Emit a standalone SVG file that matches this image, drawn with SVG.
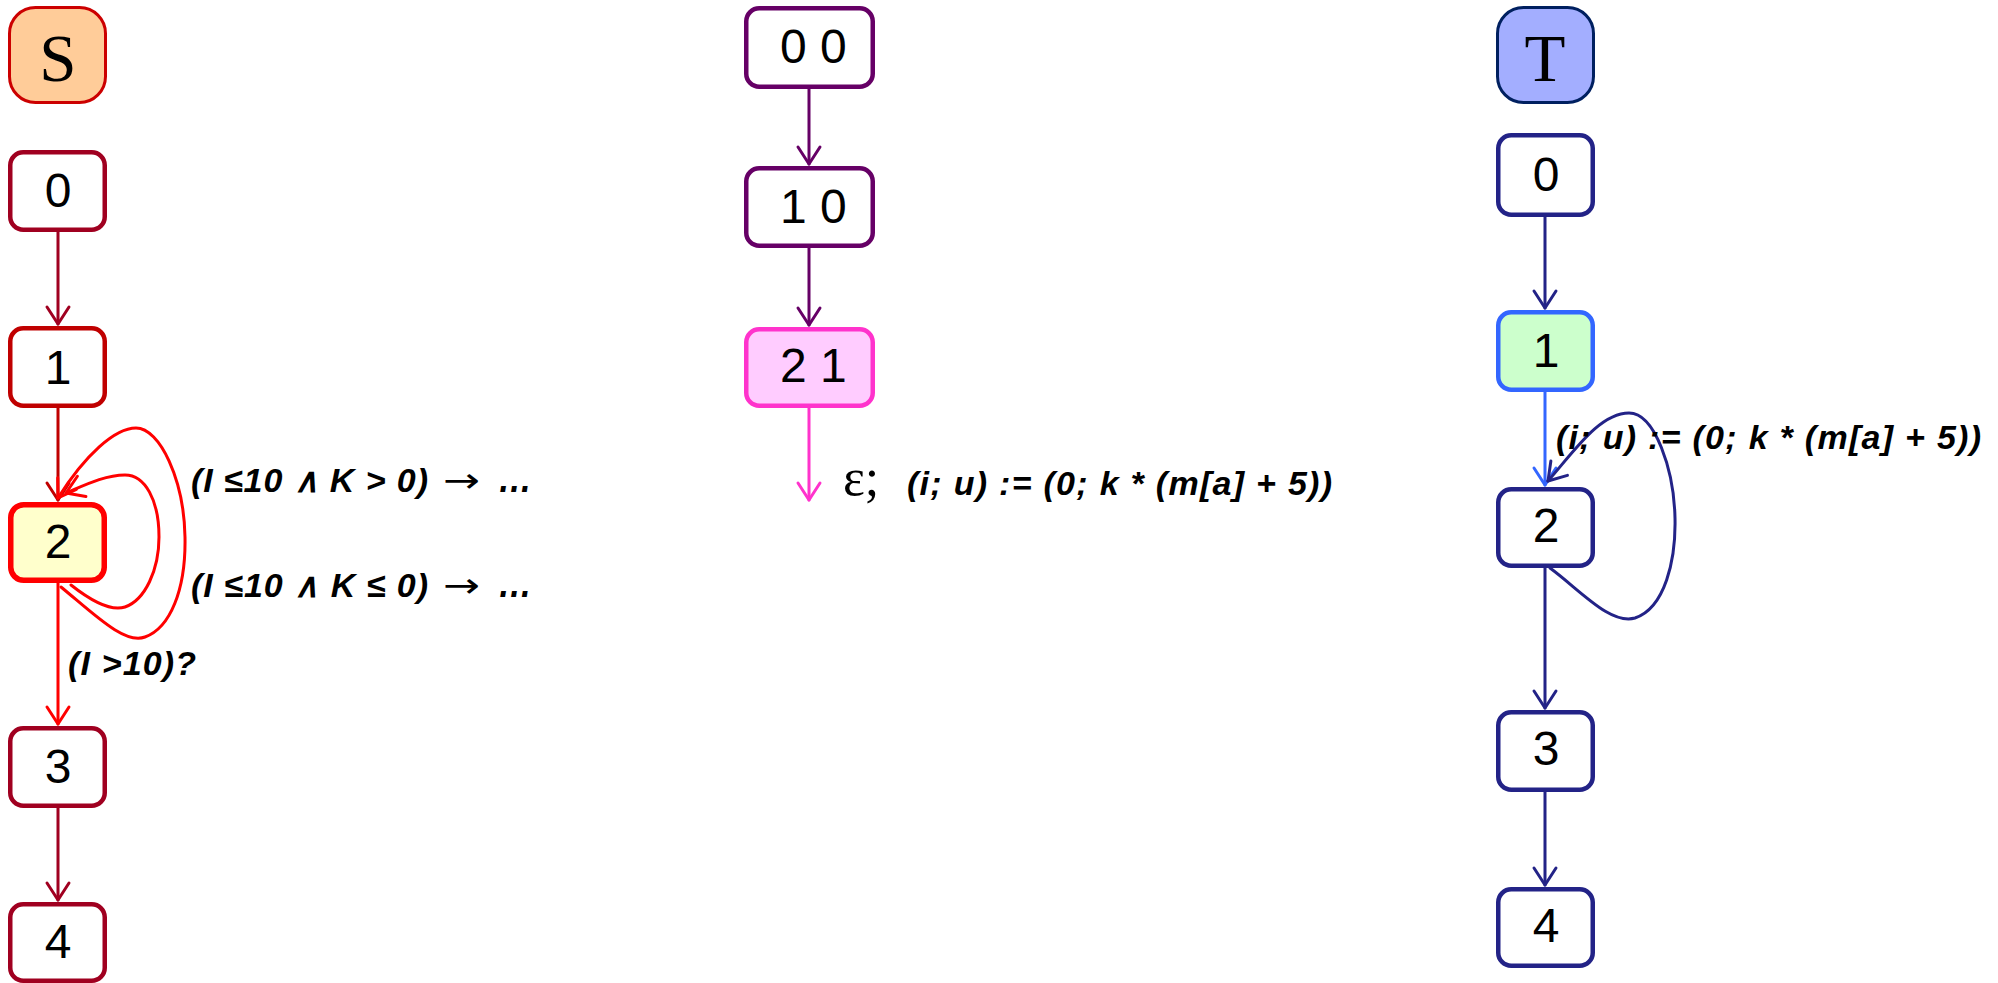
<svg xmlns="http://www.w3.org/2000/svg" width="1998" height="983" viewBox="0 0 1998 983">
<style>
.num{font-family:"Liberation Sans",Arial,sans-serif;font-size:48px;fill:#000;text-anchor:middle}
.num2{font-family:"Liberation Sans",Arial,sans-serif;font-size:48px;fill:#000}
.big{font-family:"Liberation Serif","Times New Roman",serif;font-size:67px;fill:#000;text-anchor:middle}
.lbl{font-family:"Liberation Sans",Arial,sans-serif;font-size:34px;font-weight:bold;font-style:italic;fill:#000}
.dots{font-family:"Liberation Sans",Arial,sans-serif;font-size:40px;font-weight:bold;font-style:italic;fill:#000}
.arr{font-family:"DejaVu Sans","Liberation Sans",sans-serif;font-size:34px;fill:#000}
.eps{font-family:"Liberation Serif","Times New Roman",serif;font-size:52px;fill:#000}
.edge{fill:none;stroke-width:3;stroke-linecap:round}
.box{stroke-width:4.5}
</style>
<defs>
<marker id="mA" markerUnits="userSpaceOnUse" viewBox="-20 -14 23 28" markerWidth="23" markerHeight="28" refX="0" refY="0" orient="auto"><path d="M-17,-11 L0,0 L-17,11" fill="none" stroke="#A00020" stroke-width="3" stroke-linecap="round" stroke-linejoin="round"/></marker>
<marker id="mC" markerUnits="userSpaceOnUse" viewBox="-20 -14 23 28" markerWidth="23" markerHeight="28" refX="0" refY="0" orient="auto"><path d="M-17,-11 L0,0 L-17,11" fill="none" stroke="#C00000" stroke-width="3" stroke-linecap="round" stroke-linejoin="round"/></marker>
<marker id="mR" markerUnits="userSpaceOnUse" viewBox="-20 -14 23 28" markerWidth="23" markerHeight="28" refX="0" refY="0" orient="auto"><path d="M-17,-11 L0,0 L-17,11" fill="none" stroke="#FF0000" stroke-width="3" stroke-linecap="round" stroke-linejoin="round"/></marker>
<marker id="mP" markerUnits="userSpaceOnUse" viewBox="-20 -14 23 28" markerWidth="23" markerHeight="28" refX="0" refY="0" orient="auto"><path d="M-17,-11 L0,0 L-17,11" fill="none" stroke="#660066" stroke-width="3" stroke-linecap="round" stroke-linejoin="round"/></marker>
<marker id="mM" markerUnits="userSpaceOnUse" viewBox="-20 -14 23 28" markerWidth="23" markerHeight="28" refX="0" refY="0" orient="auto"><path d="M-17,-11 L0,0 L-17,11" fill="none" stroke="#FF33CC" stroke-width="3" stroke-linecap="round" stroke-linejoin="round"/></marker>
<marker id="mN" markerUnits="userSpaceOnUse" viewBox="-20 -14 23 28" markerWidth="23" markerHeight="28" refX="0" refY="0" orient="auto"><path d="M-17,-11 L0,0 L-17,11" fill="none" stroke="#232387" stroke-width="3" stroke-linecap="round" stroke-linejoin="round"/></marker>
<marker id="mB" markerUnits="userSpaceOnUse" viewBox="-20 -14 23 28" markerWidth="23" markerHeight="28" refX="0" refY="0" orient="auto"><path d="M-17,-11 L0,0 L-17,11" fill="none" stroke="#3366FF" stroke-width="3" stroke-linecap="round" stroke-linejoin="round"/></marker>
</defs>
<rect width="1998" height="983" fill="#fff"/>

<g id="connectors">
  <path class="edge" stroke="#A00020" d="M58,232 L58,324" marker-end="url(#mA)"/>
  <path class="edge" stroke="#C00000" d="M58,408 L58,500" marker-end="url(#mC)"/>
  <path class="edge" stroke="#FF0000" d="M58,583 L58,724" marker-end="url(#mR)"/>
  <path class="edge" stroke="#A00020" d="M58,808 L58,900" marker-end="url(#mA)"/>
  <path class="edge" stroke="#FF0000" d="M61,587 C95,615 125,645 145,637 C170,628 186,590 185,537 C184,480 160,428 136,428 C115,428 85,455 58,498" marker-end="url(#mR)"/>
  <path class="edge" stroke="#FF0000" d="M71,585 C90,600 110,612 125,607 C145,600 159,570 159,537 C159,500 145,475 125,475 C105,475 85,485 66,493" marker-end="url(#mR)"/>

  <path class="edge" stroke="#660066" d="M809,89 L809,164" marker-end="url(#mP)"/>
  <path class="edge" stroke="#660066" d="M809,248 L809,325" marker-end="url(#mP)"/>
  <path class="edge" stroke="#FF33CC" d="M809,408 L809,500" marker-end="url(#mM)"/>

  <path class="edge" stroke="#232387" d="M1545,217 L1545,308" marker-end="url(#mN)"/>
  <path class="edge" stroke="#3366FF" d="M1545,392 L1545,485" marker-end="url(#mB)"/>
  <path class="edge" stroke="#232387" d="M1545,568 L1545,708" marker-end="url(#mN)"/>
  <path class="edge" stroke="#232387" d="M1545,792 L1545,885" marker-end="url(#mN)"/>
  <path class="edge" stroke="#232387" d="M1550,568 C1580,590 1610,625 1635,618 C1665,608 1676,560 1675,518 C1674,470 1655,413 1629,413 C1600,413 1575,450 1548,481" marker-end="url(#mN)"/>

  <text class="lbl" x="191" y="492" textLength="237" lengthAdjust="spacing">(I ≤10 ∧ K &gt; 0)</text>
  <text class="arr" x="443" y="492" textLength="37" lengthAdjust="spacingAndGlyphs">→</text>
  <text class="dots" x="498" y="492" textLength="34" lengthAdjust="spacingAndGlyphs">…</text>
  <text class="lbl" x="191" y="597" textLength="237" lengthAdjust="spacing">(I ≤10 ∧ K ≤ 0)</text>
  <text class="arr" x="443" y="597" textLength="37" lengthAdjust="spacingAndGlyphs">→</text>
  <text class="dots" x="498" y="597" textLength="34" lengthAdjust="spacingAndGlyphs">…</text>
  <text class="lbl" x="68" y="675" textLength="128" lengthAdjust="spacing">(I &gt;10)?</text>

  <text class="eps" x="843" y="495">ε;</text>
  <text class="lbl" x="907" y="495" textLength="425" lengthAdjust="spacing">(i; u) := (0; k * (m[a] + 5))</text>

  <text class="lbl" x="1556" y="449" textLength="425" lengthAdjust="spacing">(i; u) := (0; k * (m[a] + 5))</text>
</g>

<g id="S">
  <rect x="9.5" y="7.5" width="96" height="95" rx="26" fill="#FFCC99" stroke="#CC0000" stroke-width="3"/>
  <text class="big" x="58" y="81">S</text>
</g>
<g id="S0">
  <rect class="box" x="10.25" y="152.25" width="94.5" height="77.5" rx="13" fill="#fff" stroke="#A00020"/>
  <text class="num" x="58" y="207">0</text>
</g>
<g id="S1">
  <rect class="box" x="10.25" y="328.25" width="94.5" height="77.5" rx="13" fill="#fff" stroke="#C00000"/>
  <text class="num" x="58" y="384">1</text>
</g>
<g id="S2">
  <rect x="10.75" y="504.75" width="93.5" height="75.5" rx="13" fill="#FFFFCC" stroke="#FF0000" stroke-width="5.5"/>
  <text class="num" x="58" y="558">2</text>
</g>
<g id="S3">
  <rect class="box" x="10.25" y="728.25" width="94.5" height="77.5" rx="13" fill="#fff" stroke="#A00020"/>
  <text class="num" x="58" y="783">3</text>
</g>
<g id="S4">
  <rect class="box" x="10.25" y="904.25" width="94.5" height="76.5" rx="13" fill="#fff" stroke="#A00020"/>
  <text class="num" x="58" y="958">4</text>
</g>

<g id="P00">
  <rect class="box" x="746.25" y="8.25" width="126.5" height="78.5" rx="13" fill="#fff" stroke="#660066"/>
  <text class="num2" x="780" y="63">0 0</text>
</g>
<g id="P10">
  <rect class="box" x="746.25" y="168.25" width="126.5" height="77.5" rx="13" fill="#fff" stroke="#660066"/>
  <text class="num2" x="780" y="223">1 0</text>
</g>
<g id="P21">
  <rect class="box" x="746.25" y="329.25" width="126.5" height="76.5" rx="13" fill="#FFCCFF" stroke="#FF33CC"/>
  <text class="num2" x="780" y="382">2 1</text>
</g>

<g id="T">
  <rect x="1497.5" y="7.5" width="96" height="95" rx="26" fill="#A3AEFF" stroke="#002060" stroke-width="3"/>
  <text class="big" x="1545" y="81">T</text>
</g>
<g id="T0">
  <rect class="box" x="1498.25" y="135.25" width="94.5" height="79.5" rx="13" fill="#fff" stroke="#232387"/>
  <text class="num" x="1546" y="191">0</text>
</g>
<g id="T1">
  <rect class="box" x="1498.25" y="312.25" width="94.5" height="77.5" rx="13" fill="#CCFFCC" stroke="#3366FF"/>
  <text class="num" x="1546" y="367">1</text>
</g>
<g id="T2">
  <rect class="box" x="1498.25" y="489.25" width="94.5" height="76.5" rx="13" fill="#fff" stroke="#232387"/>
  <text class="num" x="1546" y="542">2</text>
</g>
<g id="T3">
  <rect class="box" x="1498.25" y="712.25" width="94.5" height="77.5" rx="13" fill="#fff" stroke="#232387"/>
  <text class="num" x="1546" y="765">3</text>
</g>
<g id="T4">
  <rect class="box" x="1498.25" y="889.25" width="94.5" height="76.5" rx="13" fill="#fff" stroke="#232387"/>
  <text class="num" x="1546" y="942">4</text>
</g>
</svg>
